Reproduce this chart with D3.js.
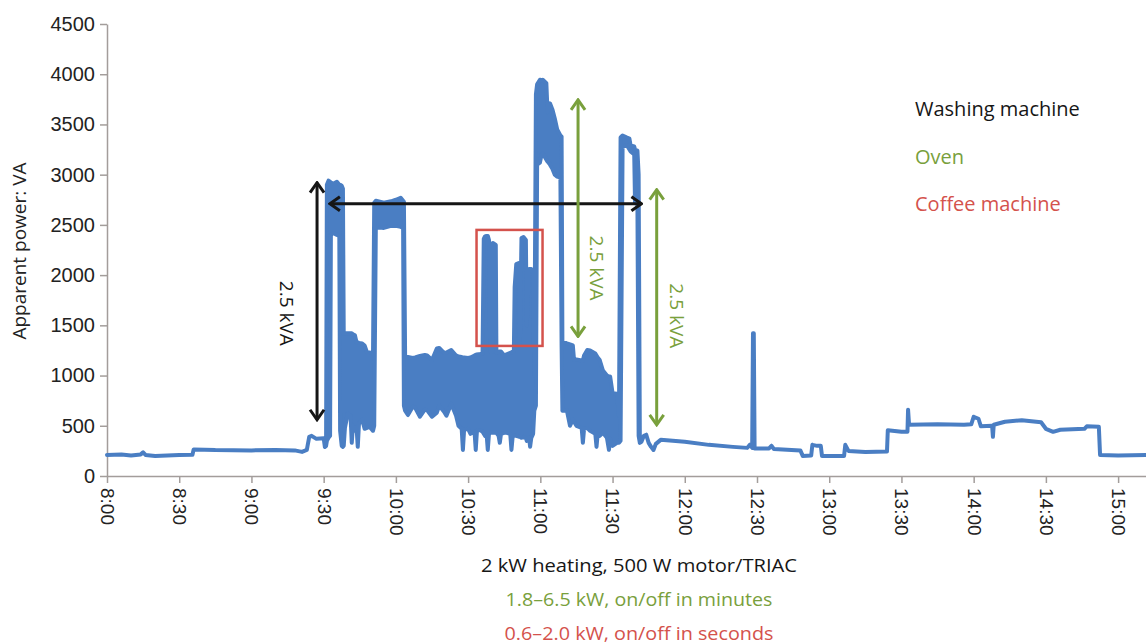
<!DOCTYPE html>
<html>
<head>
<meta charset="utf-8">
<script src="https://cdn.jsdelivr.net/npm/d3@7"></script>
<style>
  body { margin: 0; background: #fff; }
  svg { font-family: "Open Sans", "Noto Sans", sans-serif; }
</style>
</head>
<body>
<script>
// ---- data ----
// time of sample, lower and upper edge of the (noisy) apparent power trace in VA
const times = [
  "8:00", "8:06", "8:10", "8:14", "8:15", "8:16", "8:20", "8:25", "8:30", "8:35:30",
  "8:36", "8:45", "9:00", "9:10", "9:18", "9:21", "9:23", "9:24", "9:25", "9:27",
  "9:30", "9:30:30", "9:31",
  // washing machine heating, first block
  "9:31:20", "9:32", "9:32:40", "9:33", "9:34", "9:35:30", "9:36:30", "9:36:50", "9:37:30", "9:38", "9:38:20",
  "9:38:50", "9:40", "9:41:10", "9:41:40", "9:42:10", "9:43", "9:43:40", "9:44:10", "9:44:40", "9:46",
  "9:47", "9:48", "9:49", "9:50:30",
  // second block
  "9:51", "9:51:40", "9:55", "9:58", "10:00", "10:02", "10:03", "10:03:20", "10:03:50",
  "10:05", "10:07", "10:08", "10:10", "10:12", "10:13", "10:15", "10:17", "10:18", "10:20",
  "10:21", "10:23", "10:25", "10:26", "10:27:20", "10:27:50", "10:28:20", "10:30", "10:31", "10:32:40",
  "10:33:10", "10:33:40", "10:35", "10:36",
  // coffee machine spikes
  "10:36:30", "10:37", "10:37:40", "10:38:10", "10:38:40", "10:39:10", "10:40", "10:40:15", "10:41:30", "10:41:45",
  "10:42:40", "10:43:10", "10:43:40", "10:45", "10:46", "10:47:30", "10:48", "10:48:30", "10:49", "10:49:20",
  "10:50", "10:51", "10:51:30", "10:52:10", "10:53", "10:54", "10:54:20", "10:55:20", "10:55:45", "10:56:15",
  "10:57", "10:57:30",
  // oven, first block
  "10:58:10", "10:58:40", "10:59:50", "11:00:30", "11:01", "11:02:30", "11:03", "11:04", "11:05", "11:06",
  "11:07", "11:08:20", "11:08:50", "11:09:10",
  "11:11", "11:12:20", "11:13:30", "11:14", "11:15", "11:17:10", "11:17:40", "11:18:10", "11:19:30", "11:20:40",
  "11:22:50", "11:23:20", "11:23:50", "11:24:40", "11:26", "11:27:40", "11:28:30", "11:29", "11:30", "11:31:50",
  "11:32:40",
  // oven, second block
  "11:33:20", "11:34:10", "11:36", "11:37", "11:37:30", "11:39", "11:39:20", "11:40:20", "11:40:50", "11:41:20",
  // rest of the day
  "11:42", "11:43", "11:44", "11:45", "11:46", "11:47", "11:48", "11:50", "11:55", "12:00",
  "12:10", "12:20", "12:26", "12:27", "12:28", "12:28:20", "12:28:40", "12:29", "12:35", "12:36",
  "12:37", "12:48", "12:49", "12:52:30", "12:53", "12:55", "12:56:30", "12:57", "13:05", "13:06:10",
  "13:06:40", "13:08", "13:15", "13:24", "13:24:20", "13:30", "13:32:30", "13:32:45", "13:33:10", "13:45",
  "13:56", "13:59", "14:00", "14:02", "14:03", "14:07:40", "14:08", "14:08:20", "14:13", "14:20",
  "14:28", "14:30", "14:33", "14:36", "14:46", "14:47", "14:52", "14:52:30", "15:00", "15:12"
];
const lowVA = [
  210, 215, 205, 215, 235, 210, 200, 205, 210, 212,
  265, 258, 255, 258, 255, 240, 260, 390, 400, 370,
  375, 290, 300,
  350, 380, 400, 2400, 2420, 2400, 2390, 450, 300, 290, 300,
  480, 620, 600, 330, 500, 450, 480, 290, 520, 560,
  470, 480, 490, 450,
  500, 2480, 2470, 2490, 2490, 2480, 2470, 700, 650,
  607, 690, 680, 590, 660, 655, 590, 630, 700, 640,
  600, 720, 600, 500, 470, 260, 460, 470, 420, 440,
  260, 450, 458, 440,
  420, 400, 420, 260, 420, 430, 430, 430, 430, 430,
  400, 330, 420, 430, 430, 420, 260, 390, 400, 400,
  400, 392, 392, 380, 390, 380, 350, 380, 292, 380,
  420, 650,
  700, 3100, 3120, 3200, 3210, 3150, 3130, 3100, 3060, 3000,
  2980, 2970, 1300, 650,
  657, 500, 560, 540, 500, 480, 330, 470, 480, 450,
  420, 290, 420, 400, 430, 380, 260, 370, 300, 330,
  330,
  350, 3280, 3290, 3250, 3230, 3200, 2720, 2700, 400, 330,
  340, 400, 410, 330, 290, 260, 320, 360, 350, 340,
  310, 290, 280, 310, 280, 1420, 1420, 275, 275, 300,
  270, 255, 200, 205, 310, 300, 300, 200, 200, 200,
  310, 250, 240, 245, 455, 440, 440, 660, 510, 515,
  510, 515, 590, 570, 495, 500, 390, 510, 540, 555,
  535, 470, 440, 460, 470, 495, 490, 210, 205, 210
];
const highVA = [
  210, 215, 205, 215, 235, 210, 200, 205, 210, 212,
  265, 258, 255, 258, 255, 240, 260, 390, 400, 370,
  375, 290, 300,
  2900, 2940, 2930, 2920, 2910, 2930, 2900, 2900, 2890, 2860, 1420,
  1420, 1420, 1420, 1420, 1410, 1400, 1330, 1330, 1325, 1320,
  1300, 1230, 1230, 1220,
  2720, 2740, 2720, 2735, 2750, 2770, 2740, 2730, 1190,
  1185, 1175, 1180, 1195, 1205, 1200, 1155, 1270, 1275, 1225,
  1230, 1255, 1200, 1190, 1185, 1180, 1180, 1175, 1180, 1200,
  1205, 1210, 1215, 1220,
  2360, 2385, 2390, 2390, 2350, 1240, 1240, 2320, 2300, 1230,
  1235, 1240, 1240, 1200, 1210, 1225, 1230, 1240, 1240, 1880,
  2110, 2120, 1300, 2370, 2380, 2350, 1500, 2060, 2060, 2060,
  2040, 1000,
  3800, 3900, 3945, 3940, 3945, 3910, 3620, 3710, 3650, 3560,
  3450, 3390, 3380, 1340,
  1320, 1310, 1300, 1155, 1160, 1150, 1150, 1200, 1255, 1250,
  1220, 1200, 1180, 1155, 1050, 1000, 990, 990, 825, 820,
  600,
  3370, 3390, 3370, 3360, 3290, 3280, 3250, 3240, 3000, 400,
  340, 400, 410, 330, 290, 260, 320, 360, 350, 340,
  310, 290, 280, 310, 280, 1420, 1420, 275, 275, 300,
  270, 255, 200, 205, 310, 300, 300, 200, 200, 200,
  310, 250, 240, 245, 455, 440, 440, 660, 510, 515,
  510, 515, 590, 570, 495, 500, 390, 510, 540, 555,
  535, 470, 440, 460, 470, 495, 490, 210, 205, 210
];

// axes
const yTicks = [0, 500, 1000, 1500, 2000, 2500, 3000, 3500, 4000, 4500];
const xTickLabels = ["8:00", "8:30", "9:00", "9:30", "10:00", "10:30", "11:00", "11:30",
  "12:00", "12:30", "13:00", "13:30", "14:00", "14:30", "15:00"];
const xEnd = "15:12";
const yTitle = "Apparent power: VA";

// appliances: legend name and the note under the axis
const applianceNames = ["Washing machine", "Oven", "Coffee machine"];
const applianceNotes = ["2 kW heating, 500 W motor/TRIAC", "1.8–6.5 kW, on/off in minutes", "0.6–2.0 kW, on/off in seconds"];

// annotation arrows [time, VA] -> [time, VA], and which appliance they belong to
const arrowFrom = [["9:27:15", 560], ["9:32:35", 2710], ["11:15:40", 1390], ["11:48:20", 510]];
const arrowTo = [["9:27:15", 2920], ["11:42", 2710], ["11:15:40", 3745], ["11:48:20", 2850]];
const arrowOwner = [0, 0, 1, 1];
// "2.5 kVA" labels, centre [time, VA]
const kvaAt = [["9:14:40", 1620], ["11:23:30", 2070], ["11:56:40", 1595]];
const kvaOwner = [0, 1, 1];
const kvaText = "2.5 kVA";
// coffee machine box: [start, end] time, [low, high] VA
const boxTimes = ["10:33:30", "11:00:55"];
const boxVA = [1295, 2450];

// ---- rendering ----
const width = 1146, height = 644;
const colors = ["#161616", "#79a03c", "#d4524c"];
const traceColor = "#4a7ec3";
const axisColor = "#a39d9b";

// "H:MM" or "H:MM:SS" -> minutes since midnight
const toMin = s => {
  const p = s.split(":").map(Number);
  return p[0] * 60 + p[1] + (p[2] || 0) / 60;
};

const x = d3.scaleLinear().domain([toMin(xTickLabels[0]), toMin(xEnd)]).range([107, 1147]);
const y = d3.scaleLinear().domain([0, 4500]).range([476, 24]);

const svg = d3.select("body").append("svg")
  .attr("width", width)
  .attr("height", height);

// arrow heads, one per colour
const defs = svg.append("defs");
colors.forEach((c, i) => {
  defs.append("marker")
    .attr("id", "head" + i)
    .attr("viewBox", "-14 -10 16 20")
    .attr("refX", 0).attr("refY", 0)
    .attr("markerWidth", 16).attr("markerHeight", 20)
    .attr("markerUnits", "userSpaceOnUse")
    .attr("orient", "auto-start-reverse")
    .append("path")
    .attr("d", "M-10,-7L0,0L-10,7")
    .attr("fill", "none")
    .attr("stroke", c)
    .attr("stroke-width", 3);
});

// y axis
const yAxis = svg.append("g")
  .attr("transform", "translate(107,0)")
  .call(d3.axisLeft(y).tickValues(yTicks).tickFormat(d3.format("d"))
    .tickSize(7).tickSizeOuter(0).tickPadding(5));
yAxis.selectAll("path, line").attr("stroke", axisColor).attr("stroke-width", 1.5);
yAxis.selectAll("text").attr("fill", "#222").style("font-size", "20px");

// x axis
const xAxis = svg.append("g")
  .attr("transform", "translate(0,476)")
  .call(d3.axisBottom(x).tickValues(xTickLabels.map(toMin)).tickSize(7).tickSizeOuter(0)
    .tickFormat((d, i) => xTickLabels[i]));
xAxis.selectAll("path, line").attr("stroke", axisColor).attr("stroke-width", 1.5);
xAxis.selectAll("text")
  .attr("fill", "#222")
  .style("font-size", "19px")
  .attr("text-anchor", "start")
  .attr("y", 0)
  .attr("x", 12)
  .attr("dy", "0.35em")
  .attr("transform", "rotate(90)");

// y title
svg.append("text")
  .attr("transform", "translate(26,251) rotate(-90)")
  .attr("text-anchor", "middle")
  .attr("fill", "#222")
  .style("font-size", "19px")
  .text(yTitle);

// the trace: band between lower and upper edge, outlined so single values become a line
const rows = times.map((t, i) => ({ t: toMin(t), lo: lowVA[i], hi: highVA[i] }));
const band = d3.area()
  .x(d => x(d.t))
  .y0(d => y(d.lo))
  .y1(d => y(d.hi));
svg.append("path")
  .datum(rows)
  .attr("d", band)
  .attr("fill", traceColor)
  .attr("stroke", traceColor)
  .attr("stroke-width", 4)
  .attr("stroke-linejoin", "round");

// coffee machine box
svg.append("rect")
  .attr("x", x(toMin(boxTimes[0])))
  .attr("y", y(boxVA[1]))
  .attr("width", x(toMin(boxTimes[1])) - x(toMin(boxTimes[0])))
  .attr("height", y(boxVA[0]) - y(boxVA[1]))
  .attr("fill", "none")
  .attr("stroke", colors[2])
  .attr("stroke-width", 2.5);

// arrows
svg.selectAll(".arrow")
  .data(arrowFrom)
  .join("line")
  .classed("arrow", true)
  .attr("x1", d => x(toMin(d[0])))
  .attr("y1", d => y(d[1]))
  .attr("x2", (d, i) => x(toMin(arrowTo[i][0])))
  .attr("y2", (d, i) => y(arrowTo[i][1]))
  .attr("stroke", (d, i) => colors[arrowOwner[i]])
  .attr("stroke-width", 3)
  .attr("marker-start", (d, i) => `url(#head${arrowOwner[i]})`)
  .attr("marker-end", (d, i) => `url(#head${arrowOwner[i]})`);

// 2.5 kVA labels
svg.selectAll(".kva")
  .data(kvaAt)
  .join("text")
  .classed("kva", true)
  .attr("transform", d => `translate(${x(toMin(d[0]))},${y(d[1])}) rotate(90)`)
  .attr("text-anchor", "middle")
  .attr("dy", "0.35em")
  .attr("fill", (d, i) => colors[kvaOwner[i]])
  .style("font-size", "19px")
  .text(kvaText);

// legend, top right
svg.selectAll(".legend")
  .data(applianceNames)
  .join("text")
  .classed("legend", true)
  .attr("x", 915)
  .attr("y", (d, i) => 116 + i * 47.5)
  .attr("fill", (d, i) => colors[i])
  .style("font-size", "20px")
  .text(d => d);

// notes under the x axis
const noteWidths = [316, 267, 269];
svg.selectAll(".note")
  .data(applianceNotes)
  .join("text")
  .classed("note", true)
  .attr("x", 639)
  .attr("y", (d, i) => 572 + i * 34)
  .attr("text-anchor", "middle")
  .attr("fill", (d, i) => colors[i])
  .style("font-size", "18px")
  .attr("textLength", (d, i) => noteWidths[i])
  .attr("lengthAdjust", "spacingAndGlyphs")
  .text(d => d);
</script>
</body>
</html>
